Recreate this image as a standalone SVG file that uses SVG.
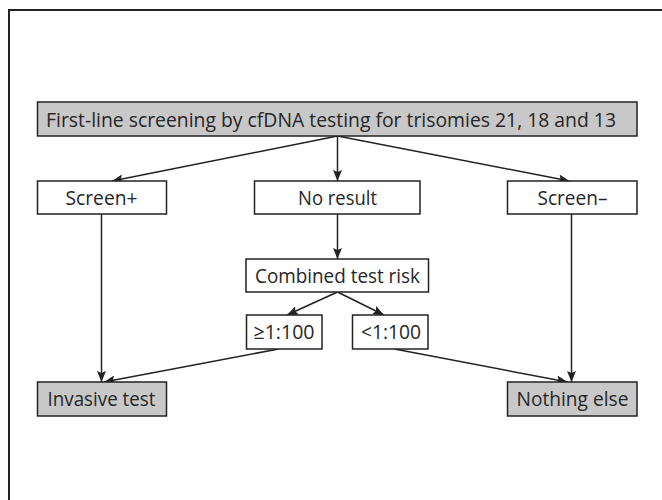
<svg xmlns="http://www.w3.org/2000/svg" width="662" height="500" viewBox="0 0 662 500">
<style>
.box{fill:#ffffff;stroke:#222222;stroke-width:1.5}
.grey{fill:#c8c8c8}
.t{font-family:"Open Sans","Noto Sans","DejaVu Sans",sans-serif;font-size:20.5px;fill:#262626;text-anchor:middle}
.c{stroke:#222222;stroke-width:1.5;fill:none;marker-end:url(#ah)}
</style>
<defs>
<marker id="ah" markerWidth="11" markerHeight="9" refX="11" refY="4.5" orient="auto" markerUnits="userSpaceOnUse">
<path d="M0,0 L11,4.5 L0,9 L2,4.5 Z" fill="#222222"/>
</marker>
</defs>
<rect width="662" height="500" fill="#ffffff"/>
<path d="M9,500 V10 H662" fill="none" stroke="#222222" stroke-width="2"/>
<g id="connectors">
<line class="c" x1="337.5" y1="136" x2="112" y2="181"/>
<line class="c" x1="337.5" y1="136" x2="337.5" y2="181"/>
<line class="c" x1="337.5" y1="136" x2="569.5" y2="181"/>
<line class="c" x1="337.5" y1="214" x2="337.5" y2="259"/>
<line class="c" x1="337.5" y1="292" x2="287" y2="315"/>
<line class="c" x1="337.5" y1="292" x2="384" y2="315"/>
<line class="c" x1="101.5" y1="214" x2="101.5" y2="382"/>
<line class="c" x1="571.5" y1="214" x2="571.5" y2="382"/>
<line class="c" x1="278.5" y1="349" x2="104" y2="382"/>
<line class="c" x1="394.5" y1="349" x2="567.5" y2="382"/>
</g>
<g id="n-top"><rect class="box grey" x="37.5" y="102" width="599.5" height="34"/><text class="t" x="331" y="126.5" textLength="570" lengthAdjust="spacingAndGlyphs">First-line screening by cfDNA testing for trisomies 21, 18 and 13</text></g>
<g id="n-screenpos"><rect class="box" x="37.5" y="181" width="129" height="33"/><text class="t" x="101.5" y="204.5" textLength="72" lengthAdjust="spacingAndGlyphs">Screen+</text></g>
<g id="n-noresult"><rect class="box" x="254.5" y="181" width="165.5" height="33"/><text class="t" x="337.5" y="204.5" textLength="79" lengthAdjust="spacingAndGlyphs">No result</text></g>
<g id="n-screenneg"><rect class="box" x="507.5" y="181" width="129.5" height="33"/><text class="t" x="572.5" y="204.5" textLength="70" lengthAdjust="spacingAndGlyphs">Screen–</text></g>
<g id="n-combined"><rect class="box" x="246" y="259" width="182.5" height="33"/><text class="t" x="337.5" y="282.5" textLength="165" lengthAdjust="spacingAndGlyphs">Combined test risk</text></g>
<g id="n-high"><rect class="box" x="246.5" y="315" width="75.5" height="34"/><text class="t" x="284" y="339" textLength="61" lengthAdjust="spacingAndGlyphs">≥1:100</text></g>
<g id="n-low"><rect class="box" x="352.5" y="315" width="75.5" height="34"/><text class="t" x="391" y="339" textLength="60" lengthAdjust="spacingAndGlyphs">&lt;1:100</text></g>
<g id="n-invasive"><rect class="box grey" x="37.5" y="382" width="129" height="34"/><text class="t" x="101.5" y="406" textLength="108" lengthAdjust="spacingAndGlyphs">Invasive test</text></g>
<g id="n-nothing"><rect class="box grey" x="507.5" y="382" width="129.5" height="34"/><text class="t" x="572.5" y="406" textLength="112" lengthAdjust="spacingAndGlyphs">Nothing else</text></g>
</svg>
